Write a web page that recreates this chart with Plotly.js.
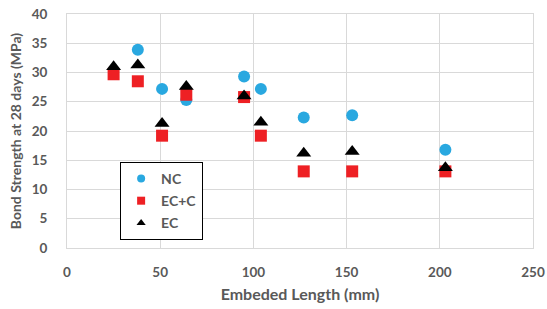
<!DOCTYPE html>
<html><head><meta charset="utf-8">
<script src="https://cdn.plot.ly/plotly-3.0.1.min.js"></script>
<style>html,body{margin:0;padding:0;background:#fff}</style>
</head><body><div id="chart" style="width:547px;height:309px"></div>
<script>
const ncX = [38, 51, 64, 95, 104, 127, 153, 203];
const ncY = [33.9, 27.2, 25.3, 29.3, 27.2, 22.3, 22.7, 16.8];
const eccX = [25, 38, 51, 64, 95, 104, 127, 153, 203];
const eccY = [29.7, 28.5, 19.2, 26.2, 25.8, 19.2, 13.1, 13.1, 13.1];
const ecX = [25, 38, 51, 64, 95, 104, 127, 153, 203];
const ecY = [31.0, 31.3, 21.3, 27.6, 26.0, 21.5, 16.2, 16.5, 13.7];
const names = ['NC', 'EC+C', 'EC'];
const colors = ['#29a8e0', '#ee2024', '#000000'];
const symbols = ['circle', 'square', 'triangle-up'];
const sizes = [12, 12, 13];
const xs = [ncX, eccX, ecX];
const ys = [ncY, eccY, ecY];

const font = {family: 'Lato, "Open Sans", sans-serif', color: '#595959'};
const data = [];
for (let i = 0; i < 3; i++) {
  data.push({x: xs[i], y: ys[i], name: names[i], mode: 'markers', type: 'scatter',
    showlegend: false, legendgroup: 'g' + i,
    marker: {symbol: symbols[i], size: sizes[i], color: colors[i]}});
}
for (let i = 0; i < 3; i++) {
  data.push({x: [null], y: [null], name: names[i], mode: 'markers', type: 'scatter',
    showlegend: true, legendgroup: 'g' + i,
    marker: {symbol: symbols[i], size: 8, color: colors[i]}});
}
const layout = {
  width: 547, height: 309,
  margin: {l: 67, r: 14, t: 14, b: 61},
  paper_bgcolor: '#fff', plot_bgcolor: '#fff',
  font: Object.assign({size: 13}, font),
  xaxis: {range: [0, 250], dtick: 50, showgrid: true, gridcolor: '#d9d9d9',
    showline: true, linecolor: '#d9d9d9', mirror: true, zeroline: false,
    ticks: '', ticklabelstandoff: 12,
    tickfont: Object.assign({size: 13.5, weight: 'bold'}, font),
    title: {text: 'Embeded Length (mm)', standoff: 9,
      font: Object.assign({size: 16, weight: 'bold'}, font)}},
  yaxis: {range: [0, 40], dtick: 5, showgrid: true, gridcolor: '#d9d9d9',
    showline: true, linecolor: '#d9d9d9', mirror: true, zeroline: false,
    ticks: '', ticklabelstandoff: 16,
    tickfont: Object.assign({size: 13.5, weight: 'bold'}, font),
    title: {text: 'Bond Strength at 28 days (MPa)', standoff: 6,
      font: Object.assign({size: 14, weight: 'bold'}, font)}},
  showlegend: true,
  legend: {x: 0.114, y: 0.368, xanchor: 'left', yanchor: 'top',
    bordercolor: '#000', borderwidth: 1, bgcolor: '#fff',
    font: Object.assign({size: 14, weight: 'bold'}, font),
    itemwidth: 30, tracegroupgap: 1}
};
Plotly.newPlot('chart', data, layout, {staticPlot: true});
</script></body></html>
